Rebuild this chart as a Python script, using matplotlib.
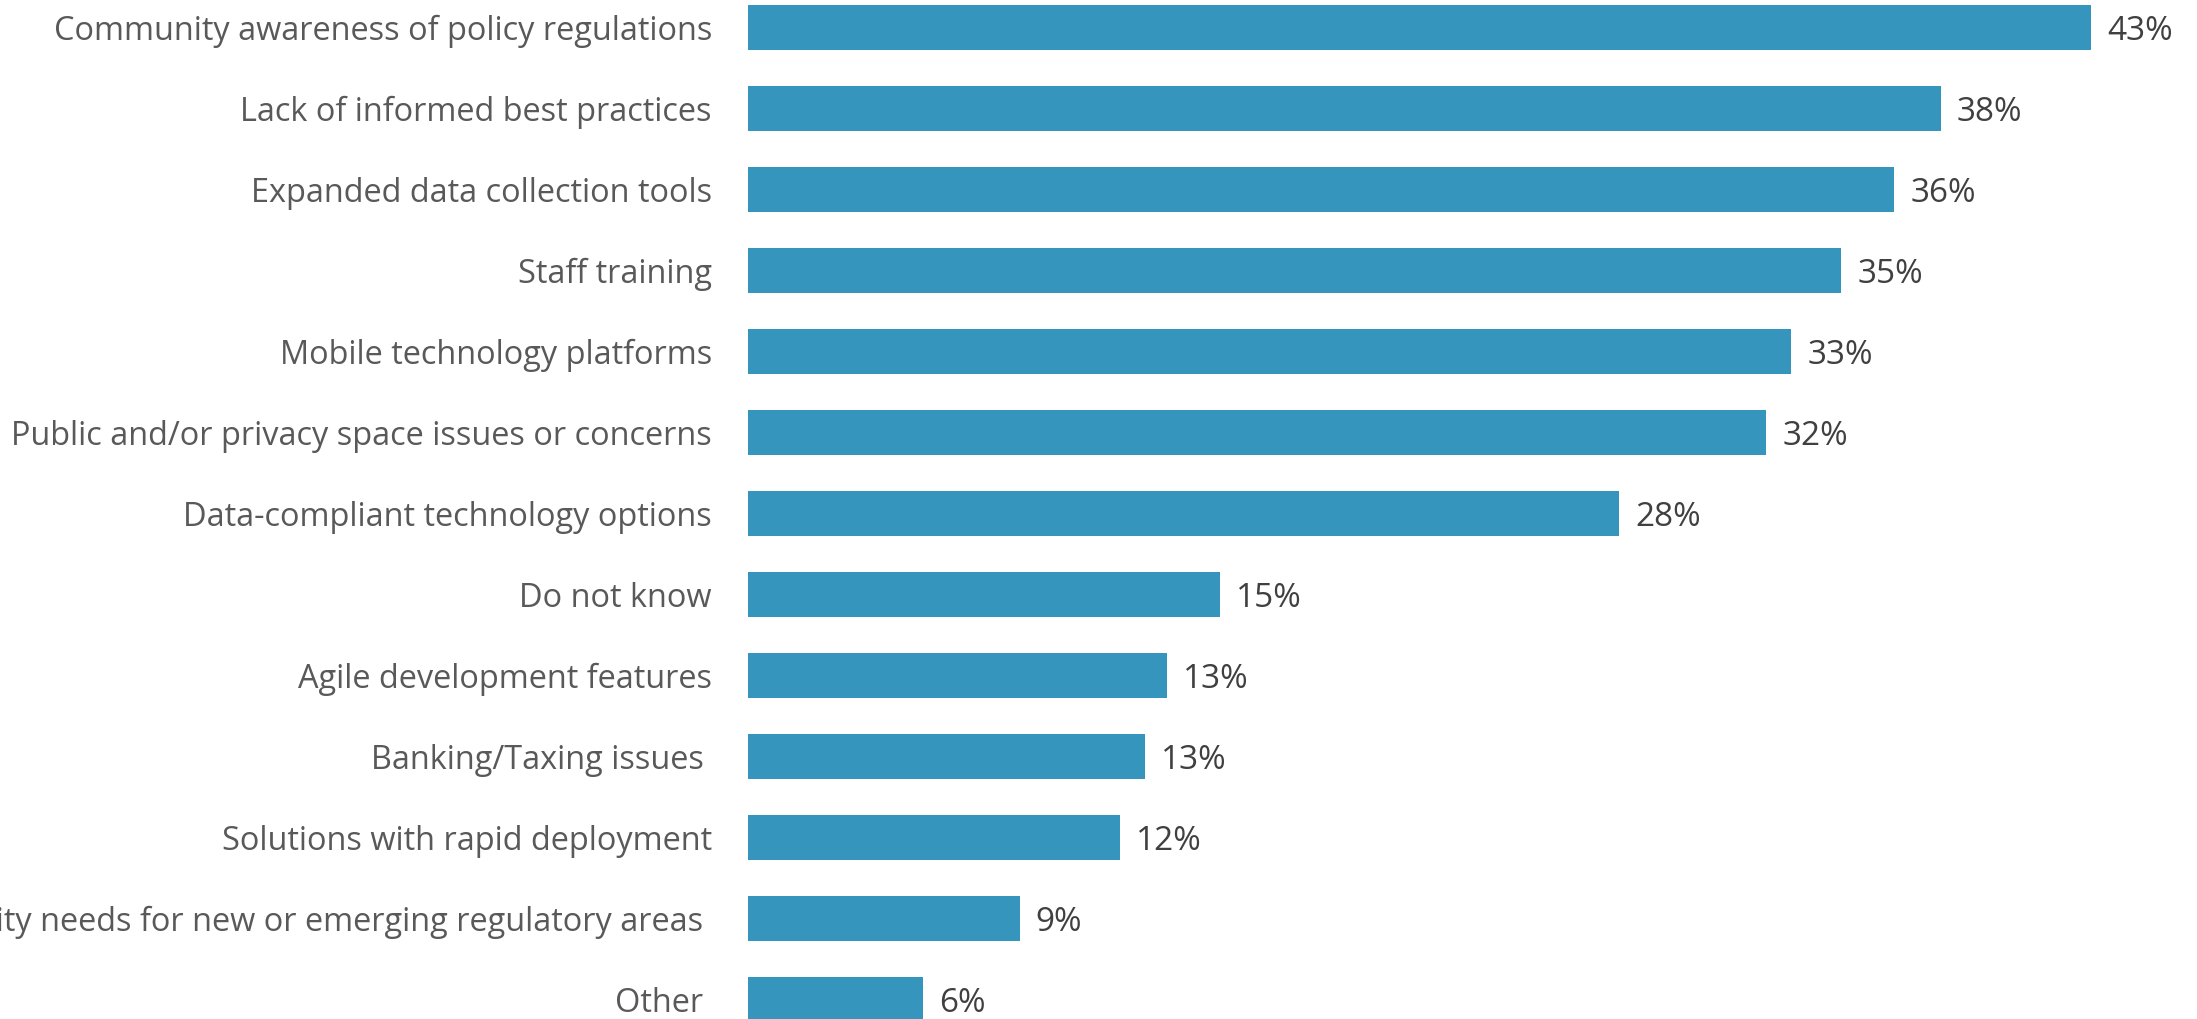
import matplotlib
matplotlib.use("Agg")
import matplotlib.pyplot as plt

categories = [
    "Community awareness of policy regulations",
    "Lack of informed best practices",
    "Expanded data collection tools",
    "Staff training",
    "Mobile technology platforms",
    "Public and/or privacy space issues or concerns",
    "Data-compliant technology options",
    "Do not know",
    "Agile development features",
    "Banking/Taxing issues ",
    "Solutions with rapid deployment",
    "Community needs for new or emerging regulatory areas ",
    "Other ",
]
values = [43.0, 38.2, 36.7, 35.0, 33.4, 32.6, 27.9, 15.1, 13.4, 12.7, 11.9, 8.7, 5.6]
value_labels = ["43%", "38%", "36%", "35%", "33%", "32%", "28%", "15%", "13%",
                "13%", "12%", "9%", "6%"]

plt.rcParams['font.family'] = ['Open Sans', 'DejaVu Sans']

W, H = 2197, 1019
fig = plt.figure(figsize=(W / 100, H / 100), dpi=100)
left = 748 / W
ax = fig.add_axes([left, 0, 1 - left, 1])

ypos = list(range(len(categories)))
ax.barh(ypos, values, height=0.56, color="#3595BC", edgecolor="none")

px_per_unit = 1343 / 43.0
ax.set_xlim(0, (W - 748) / px_per_unit)
pitch = 81.02
ax.set_ylim((H - 27.2) / pitch, -27.2 / pitch)

for y, v, lab in zip(ypos, values, value_labels):
    ax.annotate(lab, (v, y), xytext=(11.5, -3), textcoords="offset points",
                va="center", ha="left", fontsize=24, color="#404040")

ax.set_yticks(ypos)
ax.set_yticklabels(categories, fontsize=23.4, color="#595959")
ax.tick_params(axis="y", length=0, pad=26)
ax.set_xticks([])
for s in ax.spines.values():
    s.set_visible(False)

fig.savefig("out.png", dpi=100)
